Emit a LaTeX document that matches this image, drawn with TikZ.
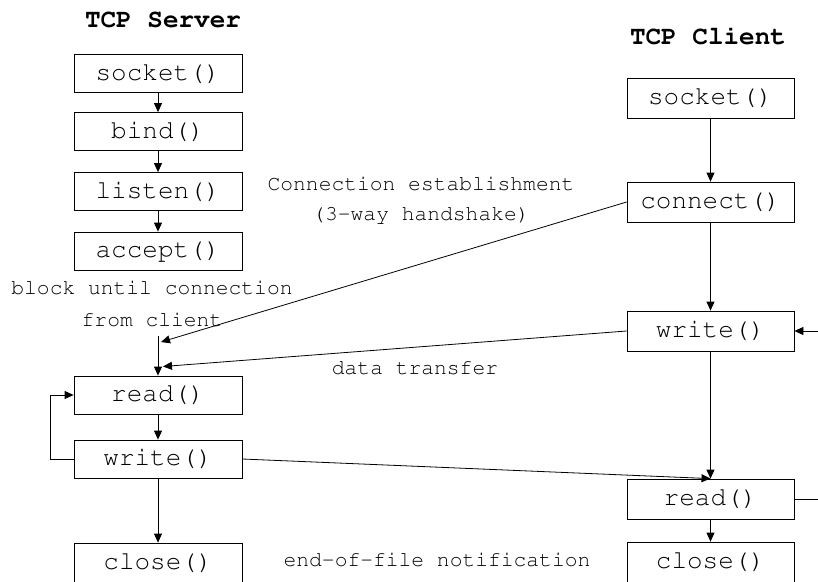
\documentclass[tikz,border=0pt]{standalone}
\usepackage[T1]{fontenc}
\usepackage{courier}
\usetikzlibrary{arrows.meta}
\begin{document}
\begin{tikzpicture}[x=1pt,y=-1pt,
  fn/.style={draw, line width=0.8pt, minimum width=168pt, minimum height=38pt, inner sep=0pt,
    font=\ttfamily\fontsize{26}{28}\selectfont},
  lbl/.style={inner sep=0pt, font=\ttfamily\fontsize{21.3}{24}\selectfont},
  hdr/.style={inner sep=0pt, font=\ttfamily\bfseries\fontsize{26}{28}\selectfont},
  conn/.style={line width=0.8pt, -{Triangle[length=9pt,width=8pt]}},
  plain/.style={line width=0.8pt}]
\useasboundingbox (0,0) rectangle (818,581);
% headers
\node[hdr] (hs) at (163,20) {TCP Server};
\node[hdr] (hc) at (708,36) {TCP Client};
% server
\node[fn] (ssocket) at (158,73.5) {socket()};
\node[fn] (sbind) at (158,131.5) {bind()};
\node[fn] (slisten) at (158,191.5) {listen()};
\node[fn] (saccept) at (158,251) {accept()};
\node[fn] (sread) at (158,395) {read()};
\node[fn] (swrite) at (158,459) {write()};
\node[fn, minimum height=40pt] (sclose) at (158,563) {close()};
% client
\node[fn, minimum width=167pt, minimum height=40pt] (csocket) at (710.5,98) {socket()};
\node[fn, minimum width=167pt, minimum height=40pt] (cconnect) at (710.5,202) {connect()};
\node[fn, minimum width=167pt, minimum height=40pt] (cwrite) at (710.5,331) {write()};
\node[fn, minimum width=167pt, minimum height=40pt] (cread) at (710.5,499) {read()};
\node[fn, minimum width=167pt, minimum height=40pt] (cclose) at (710.5,562) {close()};
% labels
\node[lbl] (l1) at (152,288) {block until connection};
\node[lbl] (l2) at (152,320) {from client};
\node[lbl] (l3) at (421,184) {Connection establishment};
\node[lbl] (l4) at (421,215) {(3-way handshake)};
\node[lbl] (l5) at (415,368) {data transfer};
\node[lbl] (l6) at (437,560) {end-of-file notification};
% coordinates
\coordinate (vstart) at (158,336);
\coordinate (tip1) at (161,342);
\coordinate (tip2) at (163,366.5);
\coordinate (loopx) at (50,459);
\coordinate (rin) at (818,331);
\coordinate (rout) at (818,499);
% server chain
\draw[conn] (ssocket) -- (sbind);
\draw[conn] (sbind) -- (slisten);
\draw[conn] (slisten) -- (saccept);
\draw[conn] (vstart) -- (sread);
\draw[conn] (sread) -- (swrite);
\draw[conn] (swrite) -- (sclose);
\draw[conn] (swrite.west) -- (loopx) |- (sread.west);
% client chain
\draw[conn] (csocket) -- (cconnect);
\draw[conn] (cconnect) -- (cwrite);
\draw[conn] (cwrite) -- (cread);
\draw[conn] (cread) -- (cclose);
% cross
\draw[conn] (cconnect.west) -- (tip1);
\draw[conn] (cwrite.west) -- (tip2);
\draw[conn] (swrite.east) -- (cread.north);
\draw[conn] (rin) -- (cwrite.east);
\draw[plain] (cread.east) -- (rout);
\end{tikzpicture}
\end{document}
